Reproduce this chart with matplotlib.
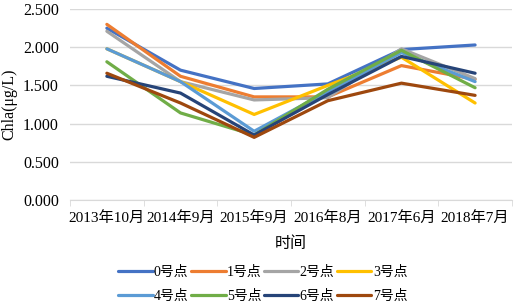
import matplotlib.pyplot as plt

plt.rcParams['font.family'] = ['Liberation Serif', 'Noto Sans CJK SC', 'DejaVu Sans']

times = ["2013年10月", "2014年9月", "2015年9月", "2016年8月", "2017年6月", "2018年7月"]
p0 = [2.25, 1.70, 1.46, 1.52, 1.97, 2.03]
p1 = [2.30, 1.62, 1.35, 1.35, 1.76, 1.58]
p2 = [2.21, 1.55, 1.31, 1.34, 1.98, 1.59]
p3 = [1.98, 1.55, 1.12, 1.50, 1.87, 1.27]
p4 = [1.98, 1.55, 0.90, 1.42, 1.93, 1.55]
p5 = [1.81, 1.14, 0.85, 1.45, 1.96, 1.47]
p6 = [1.62, 1.40, 0.85, 1.38, 1.88, 1.66]
p7 = [1.66, 1.27, 0.82, 1.30, 1.53, 1.37]

series = [p0, p1, p2, p3, p4, p5, p6, p7]
names = ["0号点", "1号点", "2号点", "3号点", "4号点", "5号点", "6号点", "7号点"]
colors = ["#4472C4", "#ED7D31", "#A5A5A5", "#FFC000",
          "#5B9BD5", "#70AD47", "#264478", "#9E480E"]

fig = plt.figure(figsize=(5.15, 3.03), dpi=100)
ax = fig.add_axes([0.136, 0.340, 0.858, 0.630])

x = range(len(times))
lines = []
for vals, name, c in zip(series, names, colors):
    l, = ax.plot(x, vals, color=c, lw=2.3, label=name, solid_capstyle='round')
    lines.append(l)

ax.set_xlim(-0.5, len(times) - 0.5)
ax.set_ylim(0, 2.5)
ax.set_yticks([0, 0.5, 1.0, 1.5, 2.0, 2.5])
ax.set_yticklabels(["0.000", "0.500", "1.000", "1.500", "2.000", "2.500"], fontsize=11.5)
ax.set_xticks(list(x))
ax.set_xticklabels(times, fontsize=11)
ax.set_xticks([i - 0.5 for i in range(len(times) + 1)], minor=True)
ax.tick_params(axis='x', which='major', length=0, pad=8)
ax.tick_params(axis='x', which='minor', length=4, color='#D9D9D9')
ax.tick_params(axis='y', length=0, pad=8)
ax.grid(axis='y', color='#D9D9D9', lw=1)
ax.set_axisbelow(True)
for s in ['top', 'right', 'left']:
    ax.spines[s].set_visible(False)
ax.spines['bottom'].set_color('#D9D9D9')

ax.set_ylabel("Chla(μg/L)", fontsize=11.5, labelpad=4)
ax.set_xlabel("时间", fontsize=11.5, labelpad=8)

# legend filled row by row
order = [0, 4, 1, 5, 2, 6, 3, 7]
fig.legend([lines[i] for i in order], [names[i] for i in order],
           loc='center', bbox_to_anchor=(0.51, 0.062), ncol=4, frameon=False,
           fontsize=10, handlelength=2.5, handletextpad=0.1, columnspacing=0.15,
           labelspacing=0.75)

plt.savefig("out.png", dpi=100)
